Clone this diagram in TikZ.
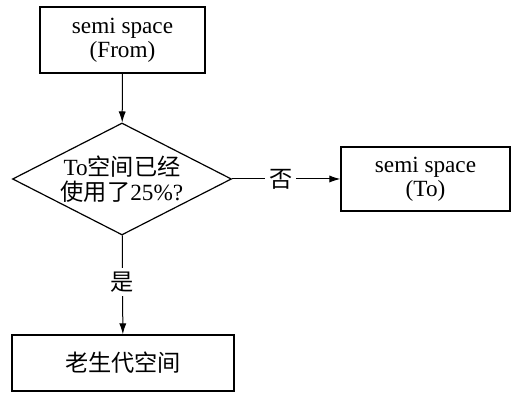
\documentclass[tikz,border=0pt]{standalone}
\usepackage{fontspec}
\setmainfont{Liberation Serif}
\newfontfamily\cjk{Noto Sans CJK SC}
\usetikzlibrary{arrows.meta, positioning, shapes.geometric}

\begin{document}
\begin{tikzpicture}[x=0.5pt,y=-0.5pt,font=\fontsize{11.6pt}{11.8pt}\selectfont,box/.style={draw,line width=0.7pt,align=center,inner sep=0pt},decision/.style={draw,diamond,aspect=2,line width=0.6pt,align=center,inner sep=0pt,minimum width=109.5pt,minimum height=56pt},arrow/.style={line width=0.5pt,-{Latex[length=5.5pt,width=3.6pt]}},lbl/.style={fill=white,inner sep=2pt}]
\useasboundingbox (0,0) rectangle (513,415);
\node[box, minimum width=82.5pt, minimum height=33pt] (from) at (122.5,40){semi space\\(From)};
\node[decision] (full) at (122,179){To{\cjk 空间已经}\\[0.5pt]{\cjk 使用了}25\%?};
\node[box, minimum width=84.5pt, minimum height=32pt] (to) at (425.5,179){semi space\\(To)};
\node[box, minimum width=111pt, minimum height=28pt] (old) at (123,363){\cjk 老生代空间};
\draw[arrow] (from) -- (full); \draw[arrow] (full) -- node[lbl, pos=0.45] {\cjk 否} (to); \draw[arrow] (full) -- node[lbl, pos=0.47] {\cjk 是} (old);
\end{tikzpicture}
\end{document}
